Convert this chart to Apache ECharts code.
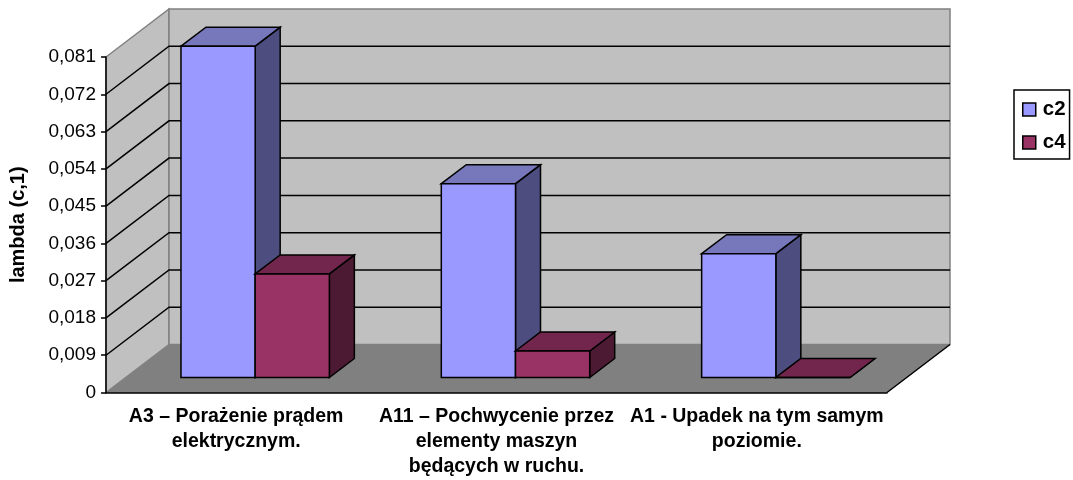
<!DOCTYPE html>
<html>
<head>
<meta charset="utf-8">
<style>
html,body{margin:0;padding:0;background:#fff;}
#main{width:1073px;height:480px;}
</style>
<script src="https://cdn.jsdelivr.net/npm/echarts@6/dist/echarts.min.js"></script>
</head>
<body>
<div id="main"></div>
<script>
var categories = ['A3 – Porażenie prądem\nelektrycznym.','A11 – Pochwycenie przez\nelementy maszyn\nbędących w ruchu.','A1 - Upadek na tym samym\npoziomie.'];
var c2Values = [0.080,0.0468,0.0299];
var c4Values = [0.025,0.0064,0];
var yTicks = [0,0.009,0.018,0.027,0.036,0.045,0.054,0.063,0.072,0.081];

var wallDx = 63, wallDy = 48;
var barShiftX = 19, barShiftY = 15, barDepthX = 25, barDepthY = 19, barRatio = 0.285;
var fontName = '"Liberation Sans", Arial, sans-serif';

function toPairs(values){
    return values.map(function(v,i){ return [i,v]; });
}
function poly(points,fill,stroke,width){
    return {type:'polygon',shape:{points:points},style:{fill:fill,stroke:stroke,lineWidth:width}};
}
// box of one series: c2 sits left of the band's shifted centre, c4 right of it
function barRender(side,colors){
    return function(params,api){
        var top = api.coord([api.value(0),api.value(1)]);
        var zero = api.coord([api.value(0),0]);
        var w = api.size([1,0])[0]*barRatio;
        var x0 = top[0]+barShiftX+(side<0?-w:0);
        var x1 = x0+w;
        var y0 = zero[1]-barShiftY;
        var y1 = top[1]-barShiftY;
        var dx = barDepthX, dy = barDepthY;
        return {type:'group',children:[
            poly([[x1,y1],[x1+dx,y1-dy],[x1+dx,y0-dy],[x1,y0]],colors[2],'#000',1.5),
            poly([[x0,y1],[x0+dx,y1-dy],[x1+dx,y1-dy],[x1,y1]],colors[1],'#000',1.5),
            poly([[x0,y1],[x1,y1],[x1,y0],[x0,y0]],colors[0],'#000',1.5)
        ]};
    };
}
function wallRender(params,api){
    var half = api.size([1,0])[0]/2;
    var a = api.coord([0,yTicks[0]]);
    var b = api.coord([categories.length-1,yTicks[yTicks.length-1]]);
    var l = a[0]-half, r = b[0]+half, bot = a[1], t = b[1];
    return {type:'group',children:[
        poly([[l,bot],[l+wallDx,bot-wallDy],[r+wallDx,bot-wallDy],[r,bot]],'#808080','#808080',1),
        poly([[l,bot],[l+wallDx,bot-wallDy],[l+wallDx,t-wallDy],[l,t]],'#c0c0c0','#808080',1.5),
        poly([[l+wallDx,bot-wallDy],[r+wallDx,bot-wallDy],[r+wallDx,t-wallDy],[l+wallDx,t-wallDy]],'#c0c0c0','#808080',1.5),
        {type:'line',shape:{x1:r,y1:bot,x2:r+wallDx,y2:bot-wallDy},style:{stroke:'#000',lineWidth:1.5}}
    ]};
}
function gridRender(params,api){
    var half = api.size([1,0])[0]/2;
    var p0 = api.coord([0,api.value(0)]);
    var p1 = api.coord([categories.length-1,api.value(0)]);
    var l = p0[0]-half, r = p1[0]+half, y = p0[1];
    return {type:'polyline',shape:{points:[[l,y],[l+wallDx,y-wallDy],[r+wallDx,y-wallDy]]},
        style:{fill:null,stroke:'#000',lineWidth:1.5}};
}

var myChart = echarts.init(document.getElementById('main'));
myChart.setOption({
    animation:false,
    backgroundColor:'#fff',
    grid:{left:106,right:186,top:57,bottom:87.5,outerBoundsMode:'none'},
    legend:{
        left:1014,top:90,orient:'vertical',
        padding:[9,4,6,8],
        itemWidth:13,itemHeight:13,itemGap:12,
        borderColor:'#000',borderWidth:1.5,
        textStyle:{fontFamily:fontName,fontSize:20.5,fontWeight:'bold',color:'#000',padding:[0,0,0,2]},
        data:[
            {name:'c2',icon:'rect',itemStyle:{color:'#9999ff',borderColor:'#000',borderWidth:1.5}},
            {name:'c4',icon:'rect',itemStyle:{color:'#993366',borderColor:'#000',borderWidth:1.5}}
        ]
    },
    xAxis:{
        type:'category',data:categories,z:5,
        axisLine:{lineStyle:{color:'#000',width:1.5}},
        axisTick:{length:5,lineStyle:{color:'#000',width:1.5}},
        axisLabel:{interval:0,margin:12,color:'#000',fontFamily:fontName,fontSize:19.5,fontWeight:'bold',lineHeight:25,hideOverlap:false}
    },
    yAxis:{
        type:'value',min:0,max:0.081,interval:0.009,z:5,
        name:'lambda (c,1)',nameLocation:'middle',nameRotate:90,nameGap:78,
        nameTextStyle:{color:'#000',fontFamily:fontName,fontSize:20,fontWeight:'bold'},
        axisLine:{show:true,lineStyle:{color:'#000',width:1.5}},
        axisTick:{show:true,length:5,lineStyle:{color:'#000',width:1.5}},
        splitLine:{show:false},
        axisLabel:{margin:10,padding:[3,0,0,0],color:'#000',fontFamily:fontName,fontSize:19,
            formatter:function(v){ return v===0?'0':v.toFixed(3).replace('.',','); }}
    },
    series:[
        {type:'custom',name:'wall',silent:true,z:1,data:[[0]],renderItem:wallRender},
        {type:'custom',name:'grid',silent:true,z:2,data:yTicks.slice(1,-1).map(function(v){return [v];}),
            encode:{y:0},renderItem:gridRender},
        {type:'custom',name:'c2',z:3,itemStyle:{color:'#9999ff'},data:toPairs(c2Values),
            encode:{x:0,y:1},renderItem:barRender(-1,['#9999ff','#7777bb','#4d4d80'])},
        {type:'custom',name:'c4',z:4,itemStyle:{color:'#993366'},data:toPairs(c4Values),
            encode:{x:0,y:1},renderItem:barRender(1,['#993366','#73264d','#4d1a33'])}
    ]
});
</script>
</body>
</html>
